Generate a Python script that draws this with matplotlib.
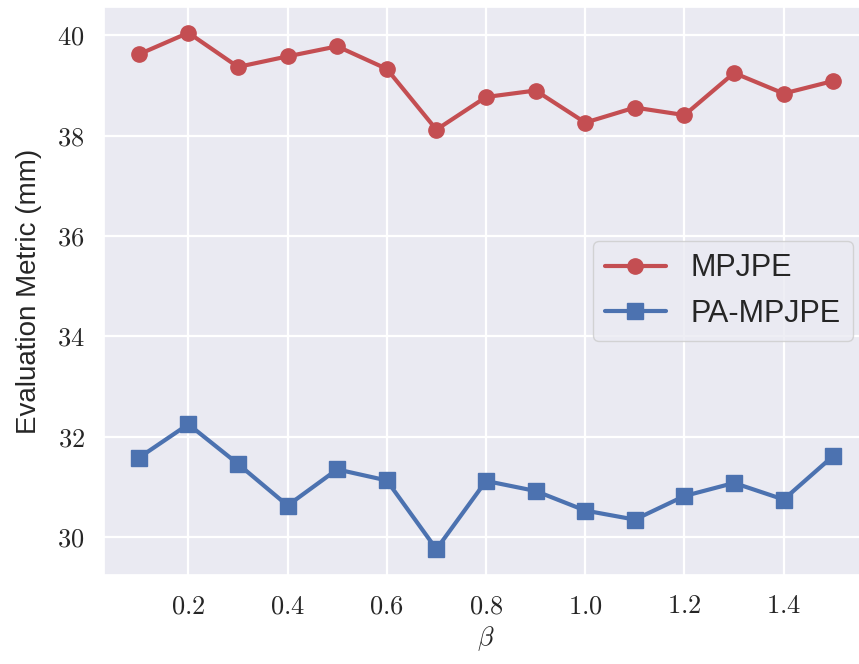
import numpy as np
import matplotlib
matplotlib.use("Agg")
import matplotlib.pyplot as plt
from matplotlib.ticker import FuncFormatter
import seaborn as sns

# --- Dati: errore al variare di beta ---
beta = [0.1, 0.2, 0.3, 0.4, 0.5, 0.6, 0.7, 0.8, 0.9, 1.0, 1.1, 1.2, 1.3, 1.4, 1.5]
mpjpe = [39.62, 40.05, 39.37, 39.58, 39.78, 39.33, 38.12, 38.77, 38.90,
         38.26, 38.56, 38.41, 39.25, 38.84, 39.09]
pa_mpjpe = [31.58, 32.25, 31.46, 30.63, 31.35, 31.13, 29.76, 31.12, 30.92,
            30.53, 30.35, 30.82, 31.08, 30.75, 31.62]

sns.set_theme(style="darkgrid", color_codes=True)
plt.rcParams['font.family'] = ['Liberation Sans', 'DejaVu Sans']
plt.rcParams['mathtext.fontset'] = 'cm'

fig = plt.figure(figsize=(8.59, 6.64), dpi=100)
ax = fig.add_axes([0.1211, 0.134, 0.8894, 0.8555])

ax.plot(beta, mpjpe, color='r', marker='o', lw=3, ms=11, label='MPJPE')
ax.plot(beta, pa_mpjpe, color='b', marker='s', lw=3, ms=11, label='PA-MPJPE')

ax.set_xticks([0.2, 0.4, 0.6, 0.8, 1.0, 1.2, 1.4])
ax.set_yticks([30, 32, 34, 36, 38, 40])
ax.xaxis.set_major_formatter(FuncFormatter(lambda v, p: f"${v:.1f}$"))
ax.yaxis.set_major_formatter(FuncFormatter(lambda v, p: f"${v:.0f}$"))
ax.tick_params(labelsize=19, pad=8)
ax.grid(color='white', lw=1.6)

ax.set_xlabel(r'$\beta$', fontsize=19, labelpad=4)
ax.set_ylabel('Evaluation Metric (mm)', fontsize=20, labelpad=11)
ax.legend(loc='center right', fontsize=22, borderaxespad=0.5)

plt.savefig('out.png', dpi=100)
